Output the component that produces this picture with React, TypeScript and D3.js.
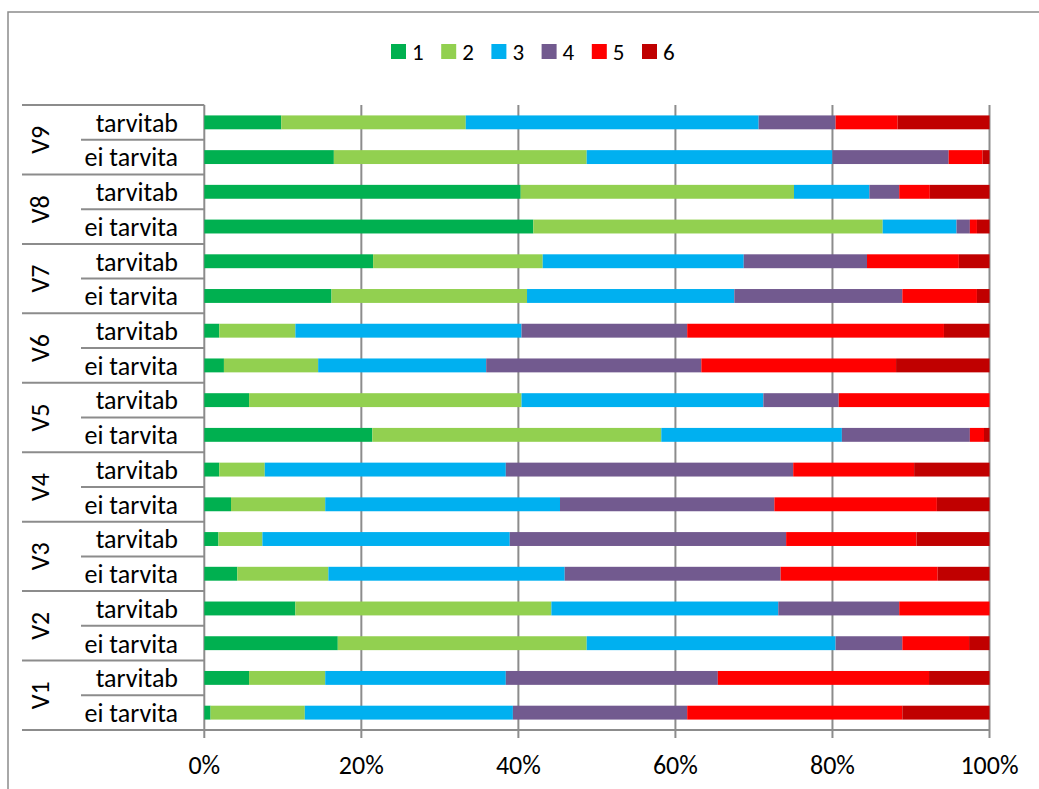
import React from "react";
import * as d3 from "d3";

const groups = ["V9", "V8", "V7", "V6", "V5", "V4", "V3", "V2", "V1"];
const subLabels = ["tarvitab", "ei tarvita"];
const seriesNames = ["1", "2", "3", "4", "5", "6"];
const seriesColors = ["#00B050", "#92D050", "#00B0F0", "#725A8F", "#FF0000", "#C00000"];
const xTicks = [0, 0.2, 0.4, 0.6, 0.8, 1];

// values per series, rows top-to-bottom: V9 tarvitab, V9 ei tarvita, V8 ..., V1 ei tarvita
const s1 = [9.8, 16.5, 40.3, 41.9, 21.5, 16.2, 1.9, 2.5, 5.7, 21.4, 1.9, 3.4, 1.8, 4.2, 11.6, 17.0, 5.7, 0.8];
const s2 = [23.5, 32.2, 34.8, 44.5, 21.6, 24.9, 9.7, 12.0, 34.7, 36.8, 5.8, 12.0, 5.6, 11.6, 32.6, 31.7, 9.7, 12.0];
const s3 = [37.3, 31.3, 9.6, 9.4, 25.6, 26.4, 28.8, 21.4, 30.8, 23.0, 30.7, 29.9, 31.5, 30.1, 28.9, 31.7, 23.0, 26.5];
const s4 = [9.8, 14.8, 3.8, 1.7, 15.7, 21.4, 21.1, 27.4, 9.6, 16.3, 36.6, 27.3, 35.2, 27.5, 15.4, 8.5, 27.0, 22.2];
const s5 = [7.9, 4.3, 3.9, 0.9, 11.7, 9.5, 32.7, 24.8, 19.2, 1.8, 15.4, 20.7, 16.6, 20.0, 11.5, 8.5, 26.9, 27.4];
const s6 = [11.7, 0.9, 7.6, 1.6, 3.9, 1.6, 5.8, 11.9, 0, 0.7, 9.6, 6.7, 9.3, 6.6, 0, 2.6, 7.7, 11.1];

const FONT = "Carlito, Calibri, Lato, sans-serif";

export default function App() {
  const W = 1039, H = 789;
  const plotL = 204.3, plotR = 989.5, plotT = 105, plotB = 730;
  const seriesData = [s1, s2, s3, s4, s5, s6];
  const rowIds: string[] = [];
  groups.forEach((g) => subLabels.forEach((s) => rowIds.push(g + "|" + s)));
  const rows = rowIds.map((id, i) => {
    const o: any = { id };
    seriesNames.forEach((n, k) => (o[n] = seriesData[k][i]));
    return o;
  });
  const stacked = d3.stack().keys(seriesNames).offset(d3.stackOffsetExpand)(rows);
  const x = d3.scaleLinear().domain([0, 1]).range([plotL, plotR]);
  const y = d3.scaleBand().domain(rowIds).range([plotT, plotB]).paddingInner(0.6).paddingOuter(0.3);
  const step = y.step();
  const grid = "#8C8C8C";

  return (
    <svg width={W} height={H} style={{ position: "absolute", left: 0, top: 0, background: "#fff" }}>
      <rect x={8} y={12} width={1100} height={900} fill="#fff" stroke="#8C8C8C" strokeWidth={1.5} />
      {/* legend */}
      {seriesNames.map((n, i) => (
        <g key={n} transform={`translate(${391 + i * 50.2},44)`}>
          <rect width={15} height={15} fill={seriesColors[i]} />
          <text x={21} y={15.5} fontFamily={FONT} fontSize={23} fill="#000">{n}</text>
        </g>
      ))}
      {/* gridlines */}
      {xTicks.map((t) => (
        <line key={t} x1={x(t)} x2={x(t)} y1={plotT} y2={plotB + 8} stroke={grid} strokeWidth={2} />
      ))}
      {/* bars */}
      {stacked.map((layer, k) => (
        <g key={layer.key} fill={seriesColors[k]}>
          {layer.map((d: any, i) => (
            <rect key={i} x={x(d[0])} y={y(rowIds[i])} width={Math.max(0, x(d[1]) - x(d[0]))} height={y.bandwidth()} />
          ))}
        </g>
      ))}
      {/* category separators */}
      {d3.range(rowIds.length + 1).map((i) => (
        <line key={i} x1={i % 2 === 0 ? 22 : 81} x2={plotL} y1={plotT + i * step} y2={plotT + i * step} stroke={grid} strokeWidth={2} />
      ))}
      <line x1={plotL} x2={plotR} y1={plotB} y2={plotB} stroke={grid} strokeWidth={2} />
      {/* sub labels */}
      {rowIds.map((id) => (
        <text key={id} x={178} y={(y(id) as number) + y.bandwidth() / 2} dy="0.36em" textAnchor="end" fontFamily={FONT} fontSize={26} fill="#000">
          {id.split("|")[1]}
        </text>
      ))}
      {/* group labels */}
      {groups.map((g, i) => {
        const cy = plotT + (i * 2 + 1) * step;
        return (
          <text key={g} transform={`translate(40,${cy}) rotate(-90)`} textAnchor="middle" dy="0.36em" fontFamily={FONT} fontSize={26} fill="#000">
            {g}
          </text>
        );
      })}
      {/* x tick labels */}
      {xTicks.map((t) => (
        <text key={t} x={x(t)} y={774} textAnchor="middle" fontFamily={FONT} fontSize={26} fill="#000">
          {d3.format(".0%")(t)}
        </text>
      ))}
    </svg>
  );
}
